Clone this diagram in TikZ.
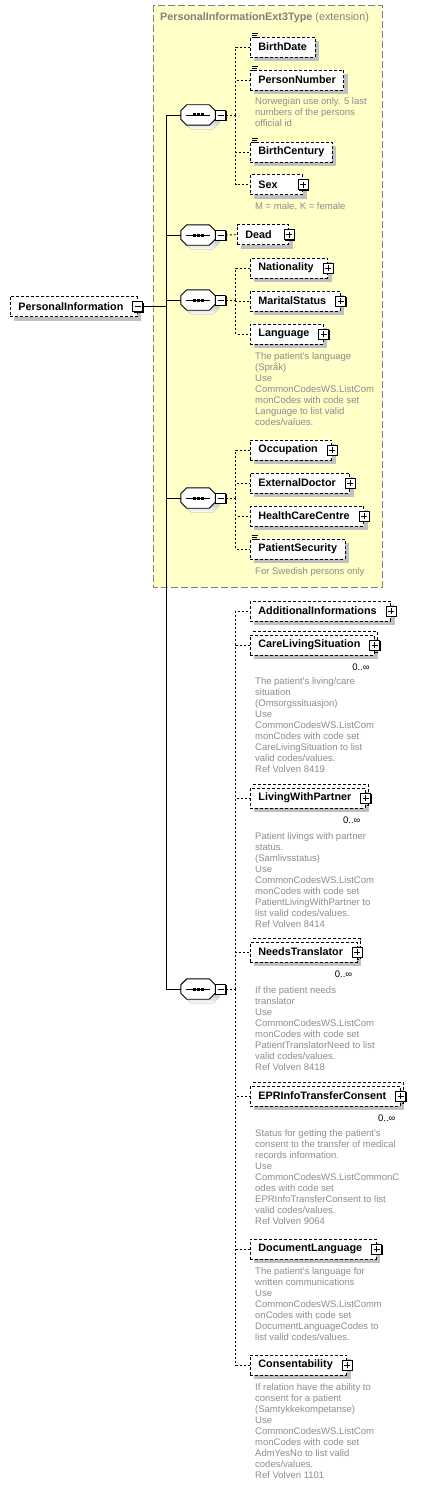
\documentclass[tikz,border=0pt]{standalone}
\usepackage{fontspec}
\setmainfont{Liberation Sans}
\usetikzlibrary{shadows}

\definecolor{typefill}{RGB}{255,255,200}
\definecolor{typeline}{RGB}{128,128,128}
\definecolor{notegray}{RGB}{140,140,140}
\definecolor{shade}{RGB}{192,192,192}

\newcommand{\elemfont}{\fontsize{10.8}{13}\selectfont\bfseries}
\newcommand{\notefont}{\fontsize{9.5}{11}\selectfont}
\newcommand{\kids}{\kern6pt}
\newcommand{\octagon}[1]{([xshift=6pt]#1.north west) -- ([xshift=-6pt]#1.north east)
    -- ([yshift=-6pt]#1.north east) -- ([yshift=6pt]#1.south east)
    -- ([xshift=-6pt]#1.south east) -- ([xshift=6pt]#1.south west)
    -- ([yshift=6pt]#1.south west) -- ([yshift=-6pt]#1.north west) -- cycle}

\begin{document}
\begin{tikzpicture}[
    x=1pt,
    y=-1pt,
    tree/.style={line width=0.9pt},
    link/.style={line width=0.8pt,dash pattern=on 2pt off 2pt},
    elem/.style={draw,line width=0.8pt,dash pattern=on 3pt off 2pt,fill=white,
        font=\elemfont,minimum height=20pt,
        inner xsep=8pt,inner ysep=0pt,anchor=west,
        drop shadow={shadow xshift=4pt,shadow yshift=-4pt,fill=shade,opacity=1}},
    plusbox/.style={draw,solid,line width=0.8pt,fill=white,minimum size=10pt,inner sep=0pt,
        drop shadow={shadow xshift=1pt,shadow yshift=-1pt,fill=black,opacity=1},
        path picture={\draw[line width=0.8pt]
            ([xshift=2pt]path picture bounding box.west) -- ([xshift=-2pt]path picture bounding box.east)
            ([yshift=2pt]path picture bounding box.south) -- ([yshift=-2pt]path picture bounding box.north);}},
    minusbox/.style={draw,solid,line width=0.8pt,fill=white,minimum size=10pt,inner sep=0pt,
        drop shadow={shadow xshift=1pt,shadow yshift=-1pt,fill=black,opacity=1},
        path picture={\draw[line width=0.8pt]
            ([xshift=2pt]path picture bounding box.west) -- ([xshift=-2pt]path picture bounding box.east);}},
    seq/.style={minimum width=34pt,minimum height=20pt,inner sep=0pt},
    note/.style={font=\notefont,text=notegray,align=left,anchor=north west,inner sep=0pt},
    occ/.style={font=\notefont,anchor=north east,inner sep=0pt}
]

\useasboundingbox (0,0) rectangle (427,1485);

% -------------------------------------------------
% Extension type box
% -------------------------------------------------

\draw[typeline,fill=typefill,line width=0.8pt,dash pattern=on 7pt off 3pt] (153,5) rectangle (382,587);
\node[anchor=west,inner sep=0pt,text=typeline,font=\fontsize{10.8}{13}\selectfont] (ttl) at (160,18)
    {\textbf{PersonalInformationExt3Type} (extension)};

% -------------------------------------------------
% Root element and trunk
% -------------------------------------------------

\coordinate (trunktop) at (166,115);
\coordinate (trunkbot) at (166,989);

\node[elem] (pinfo) at (10,306.5) {PersonalInformation\kids};
\node[minusbox] (pinfo-m) at (pinfo.east) {};

\draw[tree] (trunktop) -- (trunkbot);
\draw[tree] (pinfo-m) -- (pinfo-m -| trunktop);

% -------------------------------------------------
% Sequences
% -------------------------------------------------

\foreach \n/\y in {1/115,2/235,3/300,4/498,5/989}{
    \node[seq] (s\n) at (198,\y) {};
    \begin{scope}[transform canvas={shift={(4pt,-4pt)}}]
        \fill[shade] \octagon{s\n};
    \end{scope}
    \draw[line width=0.9pt,fill=white] \octagon{s\n};
    \node[minusbox,anchor=west] (m\n) at (s\n.east) {};
    \draw[tree] (s\n.west -| trunktop) -- (s\n.west);
    \draw[line width=0.8pt] ([xshift=5pt]s\n.west) -- ([xshift=-5pt]s\n.east);
    \foreach \d in {-4,0,4}
        \fill ([shift={(\d pt-1.5pt,-1.5pt)}]s\n.center) rectangle +(3pt,3pt);
}

\coordinate (j1) at (235.5,115);
\coordinate (j3) at (235.5,300);
\coordinate (j4) at (235.5,498);
\coordinate (j5) at (235.5,989);

% -------------------------------------------------
% Sequence 1
% -------------------------------------------------

\node[elem] (bdate) at (250,47) {BirthDate};
\node[elem] (pnum)  at (250,80) {PersonNumber};
\node[note] (n-pnum) at (255,97.5) {Norwegian use only. 5 last\\numbers of the persons\\official id};
\node[elem] (bcent) at (250,152) {BirthCentury};
\node[elem] (sex)   at (250,184.5) {Sex\kern17pt};
\node[plusbox] (sex-p) at (sex.east) {};
\node[note] (n-sex) at (255,202.5) {M = male, K = female};

\foreach \c in {bdate,pnum,bcent}
    \draw[line width=0.7pt] ([shift={(1.5pt,3pt)}]\c.north west) -- +(6pt,0)
        ([shift={(1.5pt,1pt)}]\c.north west) -- +(5pt,0)
        ([shift={(1.5pt,-1pt)}]\c.north west) -- +(5pt,0);

\draw[link] (m1) -- (j1);
\foreach \c in {bdate,pnum,bcent,sex}
    \draw[link] (j1) |- (\c.west);

% -------------------------------------------------
% Sequence 2
% -------------------------------------------------

\node[elem] (dead) at (237,234.5) {Dead\kern9pt};
\node[plusbox] (dead-p) at (dead.east) {};
\draw[link] (m2) -- (dead);

% -------------------------------------------------
% Sequence 3
% -------------------------------------------------

\node[elem] (natl)  at (250,268) {Nationality\kids};
\node[plusbox] (natl-p) at (natl.east) {};
\node[elem] (marit) at (250,301) {MaritalStatus\kids};
\node[plusbox] (marit-p) at (marit.east) {};
\node[elem] (lang)  at (250,334) {Language\kids};
\node[plusbox] (lang-p) at (lang.east) {};
\node[note] (n-lang) at (255,352.5) {The patient's language\\(Språk)\\Use\\CommonCodesWS.ListCom\\monCodes with code set\\Language to list valid\\codes/values.};

\draw[link] (m3) -- (j3);
\foreach \c in {natl,marit,lang}
    \draw[link] (j3) |- (\c.west);

% -------------------------------------------------
% Sequence 4
% -------------------------------------------------

\node[elem] (occup)  at (250,450) {Occupation\kids};
\node[plusbox] (occup-p) at (occup.east) {};
\node[elem] (extdoc) at (250,483) {ExternalDoctor\kids};
\node[plusbox] (extdoc-p) at (extdoc.east) {};
\node[elem] (hcc)    at (250,516) {HealthCareCentre\kids};
\node[plusbox] (hcc-p) at (hcc.east) {};
\node[elem] (psec)   at (250,549) {PatientSecurity};
\node[note] (n-psec) at (255,567) {For Swedish persons only};

\draw[line width=0.7pt] ([shift={(1.5pt,3pt)}]psec.north west) -- +(6pt,0)
    ([shift={(1.5pt,1pt)}]psec.north west) -- +(5pt,0)
    ([shift={(1.5pt,-1pt)}]psec.north west) -- +(5pt,0);

\draw[link] (m4) -- (j4);
\foreach \c in {occup,extdoc,hcc,psec}
    \draw[link] (j4) |- (\c.west);

% -------------------------------------------------
% Sequence 5
% -------------------------------------------------

\node[elem] (addinf) at (250,611) {AdditionalInformations\kids};
\node[plusbox] (addinf-p) at (addinf.east) {};

\node[elem] (cls) at (250,645) {CareLivingSituation\kids};
\node[occ] (o-cls) at ([shift={(-5pt,-8pt)}]cls.south east) {0..∞};
\node[note] (n-cls) at (255,677) {The patient's living/care\\situation\\(Omsorgssituasjon)\\Use\\CommonCodesWS.ListCom\\monCodes with code set\\CareLivingSituation to list\\valid codes/values.\\Ref Volven 8419};

\node[elem] (lwp) at (250,798) {LivingWithPartner\kids};
\node[occ] (o-lwp) at ([shift={(-5pt,-8pt)}]lwp.south east) {0..∞};
\node[note] (n-lwp) at (255,832) {Patient livings with partner\\status.\\(Samlivsstatus)\\Use\\CommonCodesWS.ListCom\\monCodes with code set\\PatientLivingWithPartner to\\list valid codes/values.\\Ref Volven 8414};

\node[elem] (ntrans) at (250,952) {NeedsTranslator\kids};
\node[occ] (o-ntrans) at ([shift={(-5pt,-8pt)}]ntrans.south east) {0..∞};
\node[note] (n-ntrans) at (255,986.5) {If the patient needs\\translator\\Use\\CommonCodesWS.ListCom\\monCodes with code set\\PatientTranslatorNeed to list\\valid codes/values.\\Ref Volven 8418};

\node[elem] (eprc) at (250,1096) {EPRInfoTransferConsent\kids};
\node[occ] (o-eprc) at ([shift={(-5pt,-8pt)}]eprc.south east) {0..∞};
\node[note] (n-eprc) at (255,1129) {Status for getting the patient's\\consent to the transfer of medical\\records information.\\Use\\CommonCodesWS.ListCommonC\\odes with code set\\EPRInfoTransferConsent to list\\valid codes/values.\\Ref Volven 9064};

\foreach \c in {cls,lwp,ntrans,eprc}{
    \draw[line width=0.8pt,dash pattern=on 3pt off 2pt]
        ([shift={(3pt,3pt)}]\c.north west) -| ([shift={(3pt,3pt)}]\c.south east) -- ([yshift=3pt]\c.south east);
    \node[plusbox] (\c-p) at (\c.east) {};
}

\node[elem] (doclang) at (250,1249) {DocumentLanguage\kids};
\node[plusbox] (doclang-p) at (doclang.east) {};
\node[note] (n-doclang) at (255,1267) {The patient's language for\\written communications\\Use\\CommonCodesWS.ListComm\\onCodes with code set\\DocumentLanguageCodes to\\list valid codes/values.};

\node[elem] (consent) at (250,1365) {Consentability\kids};
\node[plusbox] (consent-p) at (consent.east) {};
\node[note] (n-consent) at (255,1383) {If relation have the ability to\\consent for a patient\\(Samtykkekompetanse)\\Use\\CommonCodesWS.ListCom\\monCodes with code set\\AdmYesNo to list valid\\codes/values.\\Ref Volven 1101};

\draw[link] (m5) -- (j5);
\foreach \c in {addinf,cls,lwp,ntrans,eprc,doclang,consent}
    \draw[link] (j5) |- (\c.west);

\end{tikzpicture}
\end{document}
